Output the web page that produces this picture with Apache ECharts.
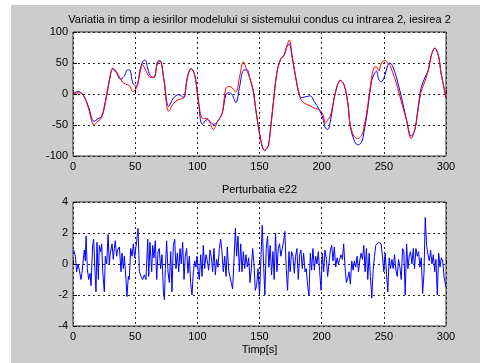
<!DOCTYPE html>
<html><head><meta charset="utf-8">
<script src="https://cdn.jsdelivr.net/npm/echarts@6/dist/echarts.min.js"></script>
<style>html,body{margin:0;padding:0;background:#fff;}#c{width:480px;height:363px;}</style>
</head><body><div id="c"></div>
<script>
// ---- data ----
const topTitle = 'Variatia in timp a iesirilor modelului si sistemului condus cu intrarea 2, iesirea 2';
const bottomTitle = 'Perturbatia e22';
const xTitle = 'Timp[s]';

const timeTop = [0,4,8,12,17,20,23,26,30,32,35,38,41,44,46,48,51,54,56,58,60,62,65,68,70,73,77,81,85,89,92,95,98,101,104,108,113,116,120,123,126,128,131,134,137,140,142,145,147,151,154,157,159,162,164,167,170,172,174,176,179,182,184,188,191,194,198,201,203,205,207,211,215,218,221,223,226,229,232,234,237,240,242,244,246,248,251,253,255,257,260,264,268,272,275,277,280,283,286,288,291,294,296,300];
const systemOut = [0,4,-1,-18,-44,-40,-36,-12,30,40,34,24,28,39,38,18,12,40,52,55,42,30,26,52,54,25,-20,-6,-1,-6,28,41,30,-15,-49,-41,-49,-45,-31,-1,2,-1,-14,12,38,39,27,5,-25,-74,-91,-84,-52,2,35,56,63,76,81,62,28,-1,-6,-4,-3,-12,-25,-39,-55,-57,-44,2,22,15,-14,-52,-74,-82,-78,-62,-25,20,31,37,23,20,31,46,50,45,28,-4,-39,-68,-57,-30,10,26,40,61,74,61,34,-6];
const modelOut = [0,2,-1,-20,-50,-44,-38,-15,30,42,36,25,17,15,12,4,10,35,47,40,32,27,27,50,53,25,-28,-15,-9,-6,25,41,30,-12,-39,-40,-57,-45,-31,10,12,10,3,28,52,37,27,5,-25,-74,-91,-84,-55,2,35,56,64,78,87,65,28,-1,-11,-17,-19,-23,-25,-33,-47,-41,-36,2,22,15,-14,-50,-68,-72,-67,-55,-20,25,42,44,37,50,54,50,46,35,18,-12,-41,-72,-57,-33,4,20,40,61,74,61,34,-6];

const noiseTime = [0.5,1.9,2.9,4.0,5.1,6.4,7.2,8.3,9.1,9.9,10.5,11.5,12.6,13.7,14.5,15.8,16.6,17.7,18.5,19.3,20.4,21.2,22.3,23.1,23.9,25.2,26.0,27.1,28.2,29.2,30.0,31.4,32.4,33.2,34.0,35.1,35.9,37.3,38.6,39.4,40.5,41.3,42.6,43.4,44.5,45.3,46.4,47.5,48.5,49.6,51.2,52.3,53.4,54.7,56.0,57.4,58.7,60.1,60.9,61.9,63.3,64.1,65.1,66.2,67.3,68.4,69.4,70.5,71.6,72.7,73.5,74.3,75.3,76.4,77.5,78.6,79.6,80.7,81.8,82.8,83.9,85.0,86.1,87.1,88.2,89.3,90.3,91.4,92.5,93.6,94.6,95.7,96.8,97.9,98.9,99.7,100.8,101.6,102.7,103.8,104.8,105.9,107.0,108.0,109.1,110.2,111.3,112.3,113.4,114.5,115.5,116.6,117.7,118.8,119.8,120.9,122.0,123.1,124.1,125.2,126.3,127.3,128.4,129.5,130.6,131.6,132.7,133.8,134.9,135.9,137.0,138.1,139.1,140.2,141.3,142.4,143.4,144.5,145.6,146.6,147.7,148.8,150.0,152.2,153.2,154.3,155.4,156.5,157.5,158.6,159.7,160.8,161.8,162.9,164.0,165.1,166.1,167.2,168.3,169.4,170.4,171.5,172.6,173.7,174.7,175.8,176.9,178.0,179.0,180.1,181.2,182.3,183.3,184.4,185.5,186.6,187.6,188.7,189.8,190.9,191.9,193.0,194.1,195.2,196.2,197.3,198.4,199.5,200.5,201.6,202.7,203.8,204.8,205.9,207.0,208.1,209.1,210.2,211.3,212.4,213.4,214.5,215.6,216.7,217.7,218.8,219.9,221.0,222.0,223.1,224.2,225.3,226.3,227.4,228.5,229.6,230.6,231.7,232.8,233.9,234.9,236.0,237.1,238.2,239.2,240.3,241.4,242.5,243.5,244.6,245.7,246.8,247.8,248.9,250.0,251.1,252.2,253.2,254.3,255.4,256.5,257.5,258.6,259.7,260.8,261.8,262.9,264.0,265.1,266.1,267.2,268.3,269.4,270.4,271.5,272.6,273.7,274.7,275.8,276.9,278.0,279.0,280.1,281.2,282.3,283.3,284.4,285.5,286.6,287.6,288.7,289.8,290.9,291.9,293.0,294.1,295.2,296.2,297.3,298.4,300.0];
const noiseValue = [0.9,0.5,-0.5,0,-0.4,-1.0,-0.6,0.3,0.9,0.2,1.8,-0.3,-1.0,-0.6,-1.4,1.2,1.6,-0.5,-1.8,1.4,-1.0,1.2,0.8,1.3,-0.5,-1.8,0.5,0,1.9,0,0.7,1.3,0.3,1.0,1.5,0.5,0.9,1.1,-0.5,0.7,-0.3,0.5,-1.0,-2.1,-0.8,-1.0,1.0,0.5,1.3,0.4,1.5,2.3,-0.5,-0.8,-1.0,-0.7,-1.0,1.6,-0.8,1.4,-0.5,1.2,0.4,1.5,-1.0,0.8,1.0,-0.3,0.6,-1.8,-2.3,-0.3,1.5,-0.5,-1.2,0.8,-1.8,1.2,1.6,-0.3,0.7,-0.5,1.0,0,1.4,-1.0,0.5,1.0,-0.6,0.5,-1.2,-2.0,-0.5,0.2,-0.2,0.5,-0.5,-1.0,0.6,-0.8,1.2,-0.3,0.6,0.2,-0.4,0.9,0.4,-0.5,1.0,-0.7,0.3,-0.2,1.0,1.6,0.8,-0.5,0.5,-0.8,1.1,-0.4,-0.5,-1.2,-1.6,0.3,2.3,0.5,1.8,-0.5,1.3,-0.5,0.8,-0.3,0.6,-0.2,0.4,-1.2,-0.3,1.0,0,-1.7,-1.4,-0.3,-2.0,2.5,0.2,-2.0,1.0,1.8,-0.2,1.2,-0.7,0.8,-1.0,2.0,-0.5,1.0,1.3,0.5,1.0,1.5,2.1,-0.3,-1.7,0.8,-0.5,0.8,0.5,-0.6,0.5,1.0,-1.0,0.6,0.9,-0.3,0.7,-0.5,-0.3,-1.4,-2.0,0.7,-0.4,1.0,-0.4,0.5,0.0,0.8,-0.5,-1.7,0.7,-0.5,0.9,0.3,-0.8,-0.9,0.9,1.2,0.2,1.1,-0.2,0.4,0.0,0.3,0.6,0.3,1.3,-0.2,-1.2,-0.9,-0.5,-1.3,0.2,-0.4,0.2,-0.2,0.5,-0.5,0.2,0.7,0.3,1.2,-0.5,1.0,-1.0,0.7,-0.8,-2.2,-0.4,0.5,1.2,1.3,1.4,1.5,1.3,0.5,-0.5,0.7,-0.7,-1.8,0.4,-0.3,0.3,-0.3,0.6,-0.4,-0.8,0.3,-0.2,-1.0,1.0,0.8,-2.0,1.3,-0.3,0.5,0.8,0.0,1.0,-0.3,1.0,0.5,0.8,-0.2,0.4,-1.9,-0.6,3.0,1.2,0.6,0.2,0.9,0.0,0.6,-0.5,0.3,-2.0,0.7,-0.2,0.4,0.2,-0.8,-1.5];

// ---- chart ----
const FONT = '"Liberation Sans", Arial, sans-serif';
const chart = echarts.init(document.getElementById('c'), null, {renderer: 'canvas'});

function xAx(gi) {
  return {
    gridIndex: gi, type: 'value', min: 0, max: 300, interval: 50,
    axisLine: {show: false},
    axisTick: {show: true, inside: true, length: 4, lineStyle: {color: '#000'}},
    axisLabel: {color: '#000', fontSize: 11, fontFamily: FONT, margin: 5},
    splitLine: {show: true, lineStyle: {color: '#222', type: [2, 3], width: 1}}
  };
}
function yAx(gi, mn, mx, iv) {
  return {
    gridIndex: gi, type: 'value', min: mn, max: mx, interval: iv,
    axisLine: {show: false},
    axisTick: {show: true, inside: true, length: 4, lineStyle: {color: '#000'}},
    axisLabel: {color: '#000', fontSize: 11, fontFamily: FONT, margin: 5},
    splitLine: {show: true, lineStyle: {color: '#222', type: [2, 3], width: 1}}
  };
}

chart.setOption({
  animation: false,
  backgroundColor: '#ffffff',
  graphic: [
    {type: 'rect', z: -10, shape: {x: 11, y: 5, width: 469, height: 358}, style: {fill: '#cccccc'}},
    {type: 'text', z: 10, x: 259.5, y: 20, style: {text: topTitle, fill: '#000', font: '11px ' + FONT, textAlign: 'center', textVerticalAlign: 'middle'}},
    {type: 'text', z: 10, x: 259.5, y: 190, style: {text: bottomTitle, fill: '#000', font: '11px ' + FONT, textAlign: 'center', textVerticalAlign: 'middle'}},
    {type: 'text', z: 10, x: 259.5, y: 350, style: {text: xTitle, fill: '#000', font: '11px ' + FONT, textAlign: 'center', textVerticalAlign: 'middle'}}
  ],
  grid: [
    {left: 73, top: 32, width: 373, height: 124, show: true, backgroundColor: '#fff', borderColor: '#333', borderWidth: 1},
    {left: 73, top: 202, width: 373, height: 124, show: true, backgroundColor: '#fff', borderColor: '#333', borderWidth: 1}
  ],
  xAxis: [xAx(0), xAx(1)],
  yAxis: [yAx(0, -100, 100, 50), yAx(1, -4, 4, 2)],
  series: [
    {type: 'line', xAxisIndex: 0, yAxisIndex: 0, showSymbol: false, smooth: 0.35,
     data: timeTop.map((t, i) => [t, systemOut[i]]), lineStyle: {color: '#0000ff', width: 1}},
    {type: 'line', xAxisIndex: 0, yAxisIndex: 0, showSymbol: false, smooth: 0.35,
     data: timeTop.map((t, i) => [t, modelOut[i]]), lineStyle: {color: '#ff0000', width: 1}},
    {type: 'line', xAxisIndex: 1, yAxisIndex: 1, showSymbol: false,
     data: noiseTime.map((t, i) => [t, noiseValue[i]]), lineStyle: {color: '#0000ff', width: 1}}
  ]
});
</script>
</body></html>
